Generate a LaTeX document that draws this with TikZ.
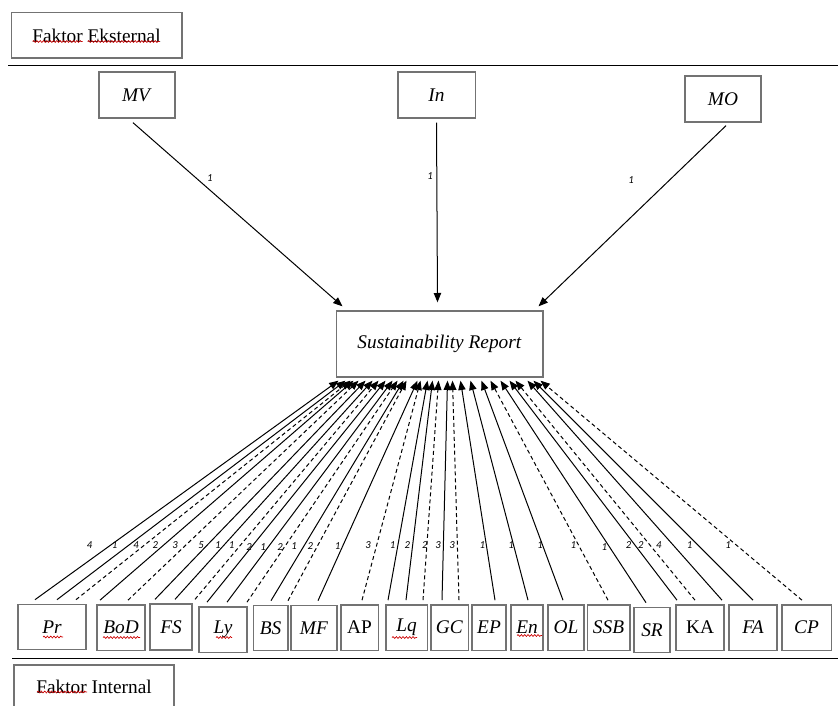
\documentclass[tikz,border=0pt]{standalone}
\usepackage{fontspec}
\setmainfont{Liberation Serif}
\newfontfamily\lblfont{Carlito}
\usetikzlibrary{arrows.meta, positioning, calc, decorations.pathmorphing}

\begin{document}
\begin{tikzpicture}[
x=0.75pt, y=-0.75pt,
>={Triangle[length=7pt,width=5.5pt]},
line width=0.75pt,
box/.style={draw=black!55, line width=1pt, inner sep=0pt, minimum height=34pt, font=\fontsize{14.5}{16}\selectfont},
lbl/.style={pos=0.25, inner sep=0pt, font=\lblfont\itshape\fontsize{8}{9}\selectfont},
dsh/.style={dash pattern=on 3pt off 2.2pt},
squig/.style={red!80!black, line width=0.5pt, decorate, decoration={snake, amplitude=0.7pt, segment length=2.5pt}},
]
\useasboundingbox (0,0) rectangle (838,706);
\clip (0,0) rectangle (838,706);

% External factors
\node[box, minimum width=128pt] (FE) at (96.5,35.5) {Faktor Eksternal};
\node[box, minimum width=57pt, minimum height=34.5pt] (MV) at (137,95) {\textit{MV}};
\node[box, minimum width=58pt, minimum height=34.5pt] (In) at (436.5,95) {\textit{In}};
\node[box, minimum width=57pt, minimum height=34.5pt] (MO) at (723,99) {\textit{MO}};

\node[box, minimum width=155pt, minimum height=49.5pt] (Rep) at (439.5,344) {\textit{Sustainability Report}};

% Internal factors
\node[box, minimum width=51pt] (Pr) at (52,627) {\textit{Pr}};
\node[box, minimum width=36pt] (BoD) at (121,627.5) {\textit{BoD}};
\node[box, minimum width=31.5pt, minimum height=34.5pt] (FS) at (171,627) {\textit{FS}};
\node[box, minimum width=36pt] (Ly) at (223,629.5) {\textit{Ly}};
\node[box, minimum width=26pt] (BS) at (270.5,628) {\textit{BS}};
\node[box, minimum width=34.5pt] (MF) at (314,628) {\textit{MF}};
\node[box, minimum width=28pt] (AP) at (359.5,627.5) {AP};
\node[box, minimum width=31pt] (Lq) at (406.5,627.5) {\textit{Lq}};
\node[box, minimum width=28pt] (GC) at (449.5,627.5) {\textit{GC}};
\node[box, minimum width=25.5pt] (EP) at (489,627.5) {\textit{EP}};
\node[box, minimum width=24pt] (En) at (527,627.5) {\textit{En}};
\node[box, minimum width=27pt] (OL) at (566,627.5) {\textit{OL}};
\node[box, minimum width=32pt] (SSB) at (608.5,627.5) {\textit{SSB}};
\node[box, minimum width=27pt] (SR) at (652,630) {\textit{SR}};
\node[box, minimum width=36pt] (KA) at (700,627.5) {KA};
\node[box, minimum width=36pt] (FA) at (753,627.5) {\textit{FA}};
\node[box, minimum width=37pt] (CP) at (806.5,627.5) {\textit{CP}};

\node[box, minimum width=120pt, minimum height=33pt] (FI) at (94,687) {Faktor Internal};

% Separators
\draw (8,66) -- (838,66);
\draw (12,658) -- (838,658);

% Arrows
\draw[->] ($(MV.south)+(-4,4)$) -- node[lbl, pos=0.3, xshift=10.5pt] (m1) {1} ($(Rep.north west)+(7,-4)$);
\draw[->] ($(In.south)+(0,4)$) -- node[lbl, pos=0.3, xshift=-5pt] (m2) {1} ($(Rep.north)+(-2,-8)$);
\draw[->] ($(MO.south)+(3,3)$) -- node[lbl, pos=0.3, xshift=-29pt] (m3) {1} ($(Rep.north east)+(-5,-4)$);

\draw[->] ($(Pr.north)+(-17,-4)$) -- node[lbl, xshift=-16pt] (w1) {4} ($(Rep.south)+(-101,3)$);
\draw[->] ($(Pr.north)+(5,-4)$) -- node[lbl, xshift=-11pt] (w2) {1} ($(Rep.south)+(-94,3)$);
\draw[->, dsh] ($(Pr.north)+(24,-4)$) -- node[lbl, xshift=-6.5pt] (w3) {4} ($(Rep.south)+(-89,3)$);
\draw[->] ($(BoD.north)+(-21,-4)$) -- node[lbl, xshift=-6pt] (w4) {2} ($(Rep.south)+(-86,3)$);
\draw[->, dsh] ($(BoD.north)+(7,-4)$) -- node[lbl, xshift=-8pt] (w5) {3} ($(Rep.south)+(-81,3)$);
\draw[->] ($(FS.north)+(-16,-4)$) -- node[lbl, xshift=-5pt] (w6) {5} ($(Rep.south)+(-74,3)$);
\draw[->] ($(FS.north)+(4,-4)$) -- node[lbl, xshift=-5pt] (w7) {1} ($(Rep.south)+(-67,3)$);
\draw[->, dsh] ($(FS.north)+(24,-4)$) -- node[lbl, xshift=-7pt] (w8) {1} ($(Rep.south)+(-61,3)$);
\draw[->] ($(Ly.north)+(-16,-4)$) -- node[lbl, xshift=-2pt] (w9) {2} ($(Rep.south)+(-54,3)$);
\draw[->] ($(Ly.north)+(4,-4)$) -- node[lbl, xshift=-4pt] (w10) {1} ($(Rep.south)+(-47,3)$);
\draw[->, dsh] ($(Ly.north)+(24,-4)$) -- node[lbl, xshift=-3.5pt] (w11) {2} ($(Rep.south)+(-42,3)$);
\draw[->] ($(BS.north)+(0.5,-4)$) -- node[lbl, xshift=-7.5pt] (w12) {1} ($(Rep.south)+(-36,3)$);
\draw[->, dsh] ($(BS.north)+(17.5,-4)$) -- node[lbl, xshift=-5.5pt] (w13) {2} ($(Rep.south)+(-33,3)$);
\draw[->] ($(MF.north)+(4,-4)$) -- node[lbl, xshift=-4pt] (w14) {1} ($(Rep.south)+(-22,3)$);
\draw[->, dsh] ($(AP.north)+(2.5,-4)$) -- node[lbl, xshift=-6.5pt] (w15) {3} ($(Rep.south)+(-19,3)$);
\draw[->] ($(Lq.north)+(-18.5,-4)$) -- node[lbl, xshift=-4pt] (w16) {1} ($(Rep.south)+(-12,3)$);
\draw[->] ($(Lq.north)+(-0.5,-4)$) -- node[lbl, xshift=-4pt] (w17) {2} ($(Rep.south)+(-7,3)$);
\draw[->, dsh] ($(Lq.north)+(16.5,-4)$) -- node[lbl, xshift=-1.5pt] (w18) {2} ($(Rep.south)+(-1,3)$);
\draw[->] ($(GC.north)+(-7.5,-4)$) -- node[lbl, xshift=-4pt] (w19) {3} ($(Rep.south)+(8,3)$);
\draw[->, dsh] ($(GC.north)+(9.5,-4)$) -- node[lbl, xshift=-4pt] (w20) {3} ($(Rep.south)+(13,3)$);
\draw[->] ($(EP.north)+(6,-4)$) -- node[lbl, xshift=-3pt] (w21) {1} ($(Rep.south)+(21,3)$);
\draw[->] ($(En.north)+(1,-4)$) -- node[lbl, xshift=-2pt] (w22) {1} ($(Rep.south)+(31,3)$);
\draw[->] ($(OL.north)+(-3,-4)$) -- node[lbl, xshift=-2pt] (w23) {1} ($(Rep.south)+(42,3)$);
\draw[->, dsh] ($(SSB.north)+(-0.5,-4)$) -- node[lbl, xshift=-4pt] (w24) {1} ($(Rep.south)+(51,3)$);
\draw[->] ($(SR.north)+(-6,-4)$) -- node[lbl, xshift=-4pt] (w25) {1} ($(Rep.south)+(61,3)$);
\draw[->] ($(KA.north)+(-23,-4)$) -- node[lbl, xshift=-5pt] (w26) {2} ($(Rep.south)+(70,3)$);
\draw[->, dsh] ($(KA.north)+(-5,-4)$) -- node[lbl, xshift=-7pt] (w27) {2} ($(Rep.south)+(76,3)$);
\draw[->] ($(KA.north)+(22,-4)$) -- node[lbl, xshift=-11pt] (w28) {4} ($(Rep.south)+(88,3)$);
\draw[->] ($(FA.north)+(0,-4)$) -- node[lbl, xshift=-6.5pt] (w29) {1} ($(Rep.south)+(94,3)$);
\draw[->, dsh] ($(CP.north)+(-4.5,-4)$) -- node[lbl, xshift=-6.5pt] (w30) {1} ($(Rep.south)+(101,3)$);

% Spelling marks
\draw[squig] ($(FE)+(-64,6)$) -- ($(FE)+(-14,6)$);
\draw[squig] ($(FE)+(-9,6)$) -- ($(FE)+(63,6)$);
\draw[squig] ($(Pr)+(-9,10)$) -- ($(Pr)+(11,10)$);
\draw[squig] ($(BoD)+(-18,10)$) -- ($(BoD)+(19,10)$);
\draw[squig] ($(Ly)+(-7,8)$) -- ($(Ly)+(9,8)$);
\draw[squig] ($(Lq)+(-14.5,10)$) -- ($(Lq)+(10.5,10)$);
\draw[squig] ($(En)+(-10,8)$) -- ($(En)+(15,8)$);
\draw[squig] ($(FI)+(-57,5)$) -- ($(FI)+(-7,5)$);
\end{tikzpicture}
\end{document}
